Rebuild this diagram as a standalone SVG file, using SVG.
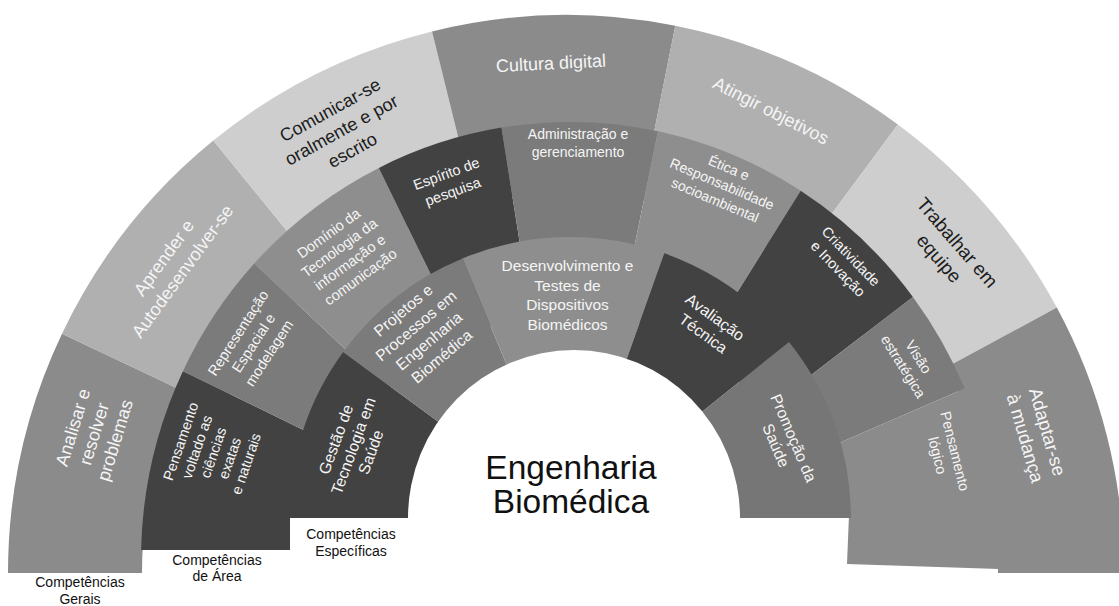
<svg xmlns="http://www.w3.org/2000/svg" width="1119" height="606" viewBox="0 0 1119 606">
  <style>
    .t{font-family:"Liberation Sans",Arial,sans-serif;text-anchor:middle}
    .w{fill:#f5f5f5}
    .k{fill:#1c1c1c}
    .o{font-size:18px}
    .o2{font-size:19px}
    .o3{font-size:18.5px}
    .m{font-size:14.5px}
    .m2{font-size:14px}
    .i{font-size:15.8px}
    .i2{font-size:15.5px}
    .c{font-size:33.5px;fill:#111}
    .lbl{font-size:14px;fill:#111}
    .dark{fill:#424242}
    .g1{fill:#8b8b8b}
    .g2{fill:#b0b0b0}
    .g3{fill:#cecece}
    .g4{fill:#7b7b7b}
    .g5{fill:#8e8e8e}
    .g6{fill:#767676}
  </style>
  <rect width="1119" height="606" fill="#fff"/>

  <!-- outer ring: general competences -->
  <g id="ring-gerais">
    <g id="n-analisar">
      <path class="g1" d="M8,573 A558,558 0 0 1 62,333.7 L183,391.1 A424,424 0 0 0 142,573 Z"/>
      <text class="t w o" transform="translate(93.8,433.8) rotate(-73)"><tspan x="0" y="-15.7">Analisar e</tspan><tspan x="0" y="6.3">resolver</tspan><tspan x="0" y="28.3">problemas</tspan></text>
    </g>
    <g id="n-aprender">
      <path class="g2" d="M62,333.7 A558,558 0 0 1 213.3,140.6 L325.8,278.5 A380,380 0 0 0 222.7,410 Z"/>
      <text class="t w o" transform="translate(173,264.5) rotate(-54)"><tspan x="0" y="-5.2">Aprender e</tspan><tspan x="0" y="17.8">Autodesenvolver-se</tspan></text>
    </g>
    <g id="n-comunicar">
      <path class="g3" d="M213.3,140.6 A558,558 0 0 1 432,31.4 L474.7,204.1 A380,380 0 0 0 325.8,278.5 Z"/>
      <text class="t k o" transform="translate(341.2,130) rotate(-29)"><tspan x="0" y="-16.7">Comunicar-se</tspan><tspan x="0" y="6.3">oralmente e por</tspan><tspan x="0" y="29.3">escrito</tspan></text>
    </g>
    <g id="n-cultura">
      <path class="g1" d="M432,31.4 A558,558 0 0 1 675.3,25.8 L640.4,200.4 A380,380 0 0 0 474.7,204.1 Z"/>
      <text class="t w o" transform="translate(551,63) rotate(-3)"><tspan x="0" y="6.3">Cultura digital</tspan></text>
    </g>
    <g id="n-atingir">
      <path class="g2" d="M675.3,25.8 A558,558 0 0 1 897.9,124.4 L792,267.5 A380,380 0 0 0 640.4,200.4 Z"/>
      <text class="t w o" transform="translate(771,110.5) rotate(27)"><tspan x="0" y="6.3">Atingir objetivos</tspan></text>
    </g>
    <g id="n-trabalhar">
      <path class="g3" d="M897.9,124.4 A558,558 0 0 1 1056.8,307.6 L900.2,392.3 A380,380 0 0 0 792,267.5 Z"/>
      <text class="t k o2" transform="translate(948.2,250.4) rotate(49)"><tspan x="0" y="-5.35">Trabalhar em</tspan><tspan x="0" y="18.65">equipe</tspan></text>
    </g>
    <g id="n-adaptar">
      <path class="g1" d="M1056.8,307.6 A558,558 0 0 1 1124,573 L998,573 A432,432 0 0 0 946,367.5 Z"/>
      <text class="t w o3" transform="translate(1036.5,435) rotate(74)"><tspan x="0" y="-5">Adaptar-se</tspan><tspan x="0" y="18">à mudança</tspan></text>
    </g>
  </g>

  <!-- middle ring: area competences -->
  <g id="ring-area">
    <g id="n-pensamento-ciencias">
      <path class="dark" d="M182.9,371.2 A429,438 0 0 0 141.1,550 L290,550 L290,512 L345.3,450.4 Z"/>
      <text class="t w m" transform="translate(213.3,452.5) rotate(-71)"><tspan x="0" y="-29.5">Pensamento</tspan><tspan x="0" y="-12.2">voltado as</tspan><tspan x="0" y="5.1">ciências</tspan><tspan x="0" y="22.4">exatas</tspan><tspan x="0" y="39.7">e naturais</tspan></text>
    </g>
    <g id="n-representacao">
      <path class="g4" d="M254.2,263.5 A429,438 0 0 0 182.9,371.2 L345.3,450.4 L387.7,388.9 Z"/>
      <text class="t w m" transform="translate(253.5,343) rotate(-57)"><tspan x="0" y="-13.4">Representação</tspan><tspan x="0" y="5.1">Espacial e</tspan><tspan x="0" y="23.6">modelagem</tspan></text>
    </g>
    <g id="n-dominio">
      <path class="g5" d="M378.8,167.9 A429,438 0 0 0 254.2,263.5 L387.7,388.9 L460.4,335.3 Z"/>
      <text class="t w m" transform="translate(344.5,255) rotate(-36)"><tspan x="0" y="-21.9">Domínio da</tspan><tspan x="0" y="-3.9">Tecnologia da</tspan><tspan x="0" y="14.1">informação e</tspan><tspan x="0" y="32.1">comunicação</tspan></text>
    </g>
    <g id="n-espirito">
      <path class="dark" d="M501.5,127.6 A429,438 0 0 0 378.8,167.9 L460.4,335.3 L530.9,313.1 Z"/>
      <text class="t w m" transform="translate(449.5,182.5) rotate(-20)"><tspan x="0" y="-4.4">Espírito de</tspan><tspan x="0" y="14.6">pesquisa</tspan></text>
    </g>
    <g id="n-administracao">
      <path class="g4" d="M658,131.2 A429,438 0 0 0 501.5,127.6 L530.9,313.1 L620.3,315.1 Z"/>
      <text class="t w m2"><tspan x="578" y="139">Administração e</tspan><tspan x="578" y="156.5">gerenciamento</tspan></text>
    </g>
    <g id="n-etica">
      <path class="g5" d="M800.7,190.8 A429,438 0 0 0 658,131.2 L620.3,315.1 L702.5,348 Z"/>
      <text class="t w m2" transform="translate(722,184) rotate(23)"><tspan x="0" y="-12.6">Ética e</tspan><tspan x="0" y="4.9">Responsabilidade</tspan><tspan x="0" y="22.4">socioambiental</tspan></text>
    </g>
    <g id="n-criatividade">
      <path class="dark" d="M912.9,296.9 A429,438 0 0 0 800.7,190.8 L702.5,348 L768.4,407.8 Z"/>
      <text class="t w m" transform="translate(844.5,262.5) rotate(46)"><tspan x="0" y="-3.9">Criatividade</tspan><tspan x="0" y="14.1">e Inovação</tspan></text>
    </g>
    <g id="n-visao">
      <path class="g4" d="M964.7,388.4 A429,438 0 0 0 912.9,296.9 L768.4,407.8 L799.3,460.3 Z"/>
      <text class="t w m" transform="translate(911,361.7) rotate(58)"><tspan x="0" y="-3.9">Visão</tspan><tspan x="0" y="14.1">estratégica</tspan></text>
    </g>
    <g id="n-pensamento-logico">
      <path class="g1" d="M998.9,569 A429,438 0 0 0 964.7,388.4 L799.3,460.3 L849,515 L847,564 Z"/>
      <text class="t w m" transform="translate(946.3,453.3) rotate(76)"><tspan x="0" y="-3.9">Pensamento</tspan><tspan x="0" y="14.1">lógico</tspan></text>
    </g>
  </g>

  <!-- inner ring: specific competences -->
  <g id="ring-especificas">
    <g id="n-gestao">
      <path class="dark" d="M289,518 A281,281 0 0 1 343.2,352 L448.9,429.4 A150,150 0 0 0 420,518 Z"/>
      <text class="t w i" transform="translate(353.3,445.8) rotate(-70)"><tspan x="0" y="-13">Gestão de</tspan><tspan x="0" y="5.5">Tecnologia em</tspan><tspan x="0" y="24">Saúde</tspan></text>
    </g>
    <g id="n-projetos">
      <path class="g4" d="M343.2,352 A281,281 0 0 1 462.5,258.4 L512.6,379.4 A150,150 0 0 0 448.9,429.4 Z"/>
      <text class="t w i" transform="translate(422.5,333.3) rotate(-40)"><tspan x="0" y="-24.5">Projetos e</tspan><tspan x="0" y="-4.5">Processos em</tspan><tspan x="0" y="15.5">Engenharia</tspan><tspan x="0" y="35.5">Biomédica</tspan></text>
    </g>
    <g id="n-desenvolvimento">
      <path class="g5" d="M462.5,258.4 A281,281 0 0 1 664.3,253.3 L620.3,376.7 A150,150 0 0 0 512.6,379.4 Z"/>
      <text class="t w i2"><tspan x="567.5" y="271.2">Desenvolvimento e</tspan><tspan x="567.5" y="290.7">Testes de</tspan><tspan x="567.5" y="310.2">Dispositivos</tspan><tspan x="567.5" y="329.7">Biomédicos</tspan></text>
    </g>
    <g id="n-avaliacao">
      <path class="dark" d="M664.3,253.3 A281,281 0 0 1 789,341.9 L686.9,424 A150,150 0 0 0 620.3,376.7 Z"/>
      <text class="t w i" transform="translate(709.2,325.3) rotate(36)"><tspan x="0" y="-4.5">Avaliação</tspan><tspan x="0" y="15.5">Técnica</tspan></text>
    </g>
    <g id="n-promocao">
      <path class="g6" d="M789,341.9 A281,281 0 0 1 851,518 L720,518 A150,150 0 0 0 686.9,424 Z"/>
      <text class="t w i" transform="translate(784.8,441.7) rotate(67)"><tspan x="0" y="-4">Promoção da</tspan><tspan x="0" y="15">Saúde</tspan></text>
    </g>
  </g>

  <!-- hub -->
  <g id="n-centro">
    <path fill="#fff" d="M408,518 A166,168 0 0 1 740,518 Z"/>
    <text class="t c"><tspan x="571" y="479">Engenharia</tspan><tspan x="571" y="513">Biomédica</tspan></text>
  </g>

  <!-- ring captions -->
  <g id="legendas">
    <text class="t lbl"><tspan x="80" y="587">Competências</tspan><tspan x="80" y="604">Gerais</tspan></text>
    <text class="t lbl"><tspan x="217" y="565">Competências</tspan><tspan x="217" y="581">de Área</tspan></text>
    <text class="t lbl"><tspan x="351" y="539">Competências</tspan><tspan x="351" y="556">Específicas</tspan></text>
  </g>
</svg>
